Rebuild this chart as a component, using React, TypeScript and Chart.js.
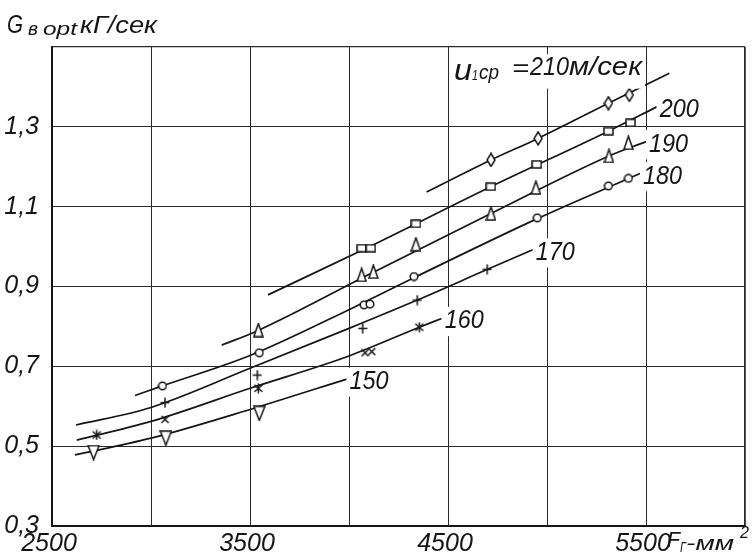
import React, { useEffect, useRef } from 'react';
import { Chart, registerables } from 'chart.js';

Chart.register(...registerables);

const FONT = '"Liberation Sans Narrow", "Liberation Sans", Arial, sans-serif';
const INK = '#151515';

// Axis ticks
const xMin = 2500;
const xMax = 6000;
const xStep = 500;
const xLabeled = [2500, 3500, 4500, 5500];
const yMin = 0.3;
const yMax = 1.5;
const yStep = 0.2;

// Faired curves for each mean blade speed u1cp (м/сек): Fг (мм²) -> G (кГ/сек)
const curve150X = [2616, 3000, 3500, 3988];
const curve150Y = [0.478, 0.52, 0.592, 0.668];
const curve160X = [2625, 3000, 3500, 4000, 4355, 4468];
const curve160Y = [0.515, 0.562, 0.645, 0.726, 0.798, 0.82];
const curve170X = [2621, 3000, 3500, 4000, 4345, 4700, 4928];
const curve170Y = [0.553, 0.597, 0.695, 0.795, 0.866, 0.943, 0.992];
const curve180X = [2919, 3058, 3500, 4000, 4328, 4951, 5470];
const curve180Y = [0.627, 0.651, 0.727, 0.842, 0.922, 1.07, 1.183];
const curve190X = [3357, 3542, 4100, 4717, 5313, 5500];
const curve190Y = [0.753, 0.79, 0.93, 1.083, 1.227, 1.263];
const curve200X = [3591, 4087, 4716, 5310, 5554];
const curve200Y = [0.879, 0.996, 1.15, 1.289, 1.35];
const curve210X = [4392, 4717, 4955, 5310, 5618];
const curve210Y = [1.137, 1.217, 1.271, 1.359, 1.434];

// Test points
const pts150X = [2710, 3075, 3547];
const pts150Y = [0.484, 0.52, 0.582];
const pts160X = [2726, 3071, 3542, 4081, 4115, 4355];
const pts160Y = [0.528, 0.567, 0.645, 0.734, 0.737, 0.798];
const pts160Kind = ['asterisk', 'cross', 'asterisk', 'cross', 'cross', 'asterisk'];
const pts170X = [3071, 3537, 4069, 4345, 4698];
const pts170Y = [0.609, 0.678, 0.795, 0.866, 0.943];
const pts180X = [3058, 3547, 4076, 4106, 4328, 4951, 5310, 5411];
const pts180Y = [0.651, 0.734, 0.854, 0.856, 0.925, 1.072, 1.152, 1.171];
const pts190X = [3542, 4064, 4123, 4338, 4717, 4944, 5313, 5411];
const pts190Y = [0.791, 0.929, 0.937, 1.006, 1.083, 1.148, 1.227, 1.26];
const pts200X = [4064, 4110, 4338, 4716, 4948, 5310, 5422];
const pts200Y = [0.996, 0.996, 1.057, 1.15, 1.206, 1.289, 1.31];
const pts210X = [4717, 4955, 5310, 5416];
const pts210Y = [1.217, 1.271, 1.359, 1.38];

// Curve end labels
const curveLabels = ['150', '160', '170', '180', '190', '200'];

const zip = (xs: number[], ys: number[]) => xs.map((x, i) => ({ x, y: ys[i] }));

const markerSizes: Record<string, [number, number]> = {
  triDown: [13, 16],
  triUp: [11, 15],
  diamond: [10, 15],
  square: [11, 9],
  circle: [10, 10],
  plus: [10, 11],
  cross: [9, 9],
  asterisk: [11, 11],
};

function makeMarker(kind: string): HTMLCanvasElement {
  const [w, h] = markerSizes[kind];
  const c = document.createElement('canvas');
  c.width = w;
  c.height = h;
  const g = c.getContext('2d') as CanvasRenderingContext2D;
  g.lineWidth = 1.5;
  g.strokeStyle = INK;
  g.fillStyle = '#fff';
  const m = 1;
  g.beginPath();
  switch (kind) {
    case 'triDown':
      g.moveTo(m, m);
      g.lineTo(w - m, m);
      g.lineTo(w / 2, h - m);
      g.closePath();
      g.fill();
      g.stroke();
      break;
    case 'triUp':
      g.moveTo(w / 2, m);
      g.lineTo(w - m, h - m);
      g.lineTo(m, h - m);
      g.closePath();
      g.fill();
      g.stroke();
      break;
    case 'diamond':
      g.moveTo(w / 2, m);
      g.lineTo(w - m, h / 2);
      g.lineTo(w / 2, h - m);
      g.lineTo(m, h / 2);
      g.closePath();
      g.fill();
      g.stroke();
      break;
    case 'square':
      g.rect(m, m, w - 2 * m, h - 2 * m);
      g.fill();
      g.stroke();
      break;
    case 'circle':
      g.arc(w / 2, h / 2, w / 2 - 1.2, 0, Math.PI * 2);
      g.fill();
      g.stroke();
      break;
    case 'plus':
      g.moveTo(w / 2, 0.5);
      g.lineTo(w / 2, h - 0.5);
      g.moveTo(0.5, h / 2);
      g.lineTo(w - 0.5, h / 2);
      g.stroke();
      break;
    case 'cross':
      g.moveTo(1, 1);
      g.lineTo(w - 1, h - 1);
      g.moveTo(w - 1, 1);
      g.lineTo(1, h - 1);
      g.stroke();
      break;
    case 'asterisk':
      g.moveTo(1.5, 2);
      g.lineTo(w - 1.5, h - 2);
      g.moveTo(w - 1.5, 2);
      g.lineTo(1.5, h - 2);
      g.moveTo(w / 2, 0.5);
      g.lineTo(w / 2, h - 0.5);
      g.stroke();
      break;
  }
  return c;
}

// A piece of text: offset dx from the anchor, baseline shift dy, optional fitted width w
type Run = { t: string; size: number; dx: number; dy: number; w?: number };

function drawRuns(ctx: CanvasRenderingContext2D, x0: number, base: number, runs: Run[], bg = false) {
  ctx.textBaseline = 'alphabetic';
  ctx.textAlign = 'left';
  if (bg) {
    let left = Infinity;
    let right = -Infinity;
    let top = Infinity;
    let bottom = -Infinity;
    for (const r of runs) {
      ctx.font = `italic ${r.size}px ${FONT}`;
      const w = r.w ?? ctx.measureText(r.t).width;
      left = Math.min(left, x0 + r.dx);
      right = Math.max(right, x0 + r.dx + w);
      top = Math.min(top, base + r.dy - r.size * 0.75);
      bottom = Math.max(bottom, base + r.dy + r.size * 0.22);
    }
    ctx.fillStyle = '#fff';
    ctx.fillRect(left - 3, top - 2, right - left + 6, bottom - top + 4);
  }
  ctx.fillStyle = INK;
  for (const r of runs) {
    ctx.font = `italic ${r.size}px ${FONT}`;
    const mw = ctx.measureText(r.t).width;
    const sx = r.w ? r.w / mw : 1;
    ctx.save();
    ctx.translate(x0 + r.dx, base + r.dy);
    ctx.scale(sx, 1);
    ctx.fillText(r.t, 0, 0);
    ctx.restore();
  }
}

const curveEnds = [
  [curve150X, curve150Y],
  [curve160X, curve160Y],
  [curve170X, curve170Y],
  [curve180X, curve180Y],
  [curve190X, curve190Y],
  [curve200X, curve200Y],
];

const annotations = {
  id: 'annotations',
  afterDatasetsDraw(chart: any) {
    const ctx: CanvasRenderingContext2D = chart.ctx;
    const xs = chart.scales.x;
    const ys = chart.scales.y;
    ctx.save();

    // speed labels at the ends of the curves
    curveEnds.forEach(([cx, cy], i) => {
      const px = xs.getPixelForValue(cx[cx.length - 1]) + 3;
      const py = ys.getPixelForValue(cy[cy.length - 1]) + 10;
      drawRuns(ctx, px, py, [{ t: curveLabels[i], size: 26, dx: 0, dy: 0, w: 39 }], true);
    });

    // top curve label: u1cp = 210 м/сек
    const hx = xs.getPixelForValue(4500) + 6;
    const hy = ys.getPixelForValue(yMax) + 33;
    drawRuns(
      ctx,
      hx,
      hy,
      [
        { t: 'u', size: 30, dx: 0, dy: 0, w: 18 },
        { t: '1', size: 14, dx: 18, dy: 0, w: 6 },
        { t: 'cp', size: 20, dx: 25, dy: -1, w: 20 },
        { t: '=', size: 24, dx: 58, dy: -4, w: 17 },
        { t: '210', size: 25, dx: 76, dy: -5, w: 39 },
        { t: 'м/сек', size: 25, dx: 115, dy: -5, w: 73 },
      ],
      true
    );

    // y axis title
    drawRuns(ctx, 7, 33, [
      { t: 'G', size: 25, dx: 0, dy: 0, w: 16 },
      { t: 'в', size: 18, dx: 21, dy: 2, w: 10 },
      { t: 'opt', size: 18, dx: 36, dy: 2, w: 34 },
      { t: 'кГ/сек', size: 24, dx: 73, dy: 0, w: 77 },
    ]);

    // x axis title after the 5500 tick label
    const fx = xs.getPixelForValue(5500) + 21;
    drawRuns(ctx, fx, 547, [
      { t: 'F', size: 22, dx: 0, dy: 0, w: 13 },
      { t: 'Г', size: 15, dx: 13, dy: 5, w: 6 },
      { t: '-мм', size: 21, dx: 19, dy: 3, w: 48 },
      { t: '2', size: 16, dx: 73, dy: -9, w: 9 },
    ]);

    ctx.restore();
  },
};

export default function App() {
  const ref = useRef<HTMLCanvasElement | null>(null);

  useEffect(() => {
    if (!ref.current) return;
    const curveStyle = {
      showLine: true,
      borderColor: INK,
      borderWidth: 1.7,
      pointRadius: 0,
      cubicInterpolationMode: 'monotone' as const,
      order: 2,
    };
    const markerStyle = (kind: string | string[]) => ({
      showLine: false,
      pointRadius: 5,
      pointStyle: Array.isArray(kind) ? kind.map(makeMarker) : makeMarker(kind),
      order: 1,
    });

    const chart = new Chart(ref.current, {
      type: 'scatter',
      data: {
        datasets: [
          { label: '150', data: zip(curve150X, curve150Y), ...curveStyle },
          { label: '160', data: zip(curve160X, curve160Y), ...curveStyle },
          { label: '170', data: zip(curve170X, curve170Y), ...curveStyle },
          { label: '180', data: zip(curve180X, curve180Y), ...curveStyle },
          { label: '190', data: zip(curve190X, curve190Y), ...curveStyle },
          { label: '200', data: zip(curve200X, curve200Y), ...curveStyle },
          { label: '210', data: zip(curve210X, curve210Y), ...curveStyle },
          { label: 'pts150', data: zip(pts150X, pts150Y), ...markerStyle('triDown') },
          { label: 'pts160', data: zip(pts160X, pts160Y), ...markerStyle(pts160Kind) },
          { label: 'pts170', data: zip(pts170X, pts170Y), ...markerStyle('plus') },
          { label: 'pts180', data: zip(pts180X, pts180Y), ...markerStyle('circle') },
          { label: 'pts190', data: zip(pts190X, pts190Y), ...markerStyle('triUp') },
          { label: 'pts200', data: zip(pts200X, pts200Y), ...markerStyle('square') },
          { label: 'pts210', data: zip(pts210X, pts210Y), ...markerStyle('diamond') },
        ] as any,
      },
      options: {
        animation: false,
        responsive: false,
        devicePixelRatio: 1,
        layout: { padding: { left: 0, top: 47, right: 11, bottom: 0 } },
        plugins: { legend: { display: false }, tooltip: { enabled: false } },
        scales: {
          x: {
            type: 'linear',
            min: xMin,
            max: xMax,
            ticks: {
              stepSize: xStep,
              autoSkip: false,
              maxRotation: 0,
              padding: 3,
              labelOffset: -3,
              color: INK,
              font: { family: FONT, size: 25, style: 'italic' },
              callback: (v: any) => (xLabeled.includes(Number(v)) ? String(v) : ''),
            },
            grid: {
              color: '#2a2a2a',
              lineWidth: (c: any) => (c.tick && c.tick.value === xMax ? 1.8 : 1),
              drawTicks: false,
            },
            border: { display: true, color: INK, width: 2 },
            afterFit: (s: any) => {
              s.height = 32;
            },
          },
          y: {
            type: 'linear',
            min: yMin,
            max: yMax,
            ticks: {
              stepSize: yStep,
              padding: 13,
              color: INK,
              font: { family: FONT, size: 25, style: 'italic' },
              callback: (v: any) => {
                const n = Number(v);
                if (Math.abs(n - yMax) < 1e-6) return '';
                return n.toFixed(1).replace('.', ',');
              },
            },
            grid: {
              color: '#2a2a2a',
              lineWidth: (c: any) => (c.tick && Math.abs(c.tick.value - yMax) < 1e-6 ? 1.3 : 1),
              drawTicks: false,
            },
            border: { display: true, color: INK, width: 2 },
            afterFit: (s: any) => {
              s.width = 52;
            },
          },
        },
      },
      plugins: [annotations],
    });
    return () => chart.destroy();
  }, []);

  return (
    <div style={{ position: 'fixed', left: 0, top: 0, width: 756, height: 558, background: '#fff' }}>
      <canvas ref={ref} width={756} height={558} style={{ display: 'block' }} />
    </div>
  );
}
